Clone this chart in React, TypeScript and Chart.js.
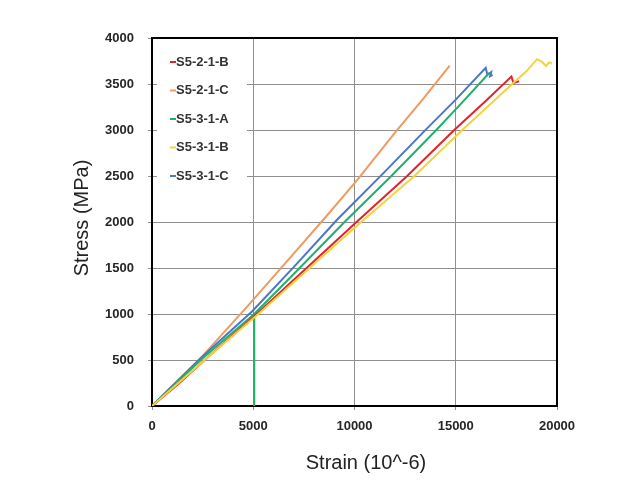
import React, { useEffect, useRef } from "react";
import { Chart, registerables } from "chart.js";

Chart.register(...registerables);

const seriesNames = ["S5-2-1-B", "S5-2-1-C", "S5-3-1-A", "S5-3-1-B", "S5-3-1-C"];
const seriesColors = ["#e3232b", "#ef9a5e", "#20b06c", "#f6d23c", "#4a78c4"];

const redStrain = [0, 1300, 2600, 5170, 7635, 10100, 12600, 14926, 16400, 17750, 17850, 18130];
const redStress = [0, 240, 500, 1000, 1500, 2000, 2500, 3000, 3300, 3580, 3510, 3530];

const orangeStrain = [0, 2400, 4700, 6650, 8600, 10150, 12070, 13400, 14700];
const orangeStress = [0, 520, 1080, 1570, 2060, 2460, 2990, 3340, 3700];

const greenStrain = [0, 2500, 5050, 7290, 9507, 11820, 14040, 15400, 16650];
const greenStress = [0, 520, 1000, 1500, 2000, 2500, 3000, 3320, 3620];
const greenDropStrain = [5050, 5050];
const greenDropStress = [1000, 0];

const yellowStrain = [0, 2600, 5250, 7783, 10330, 12955, 15320, 17880, 18500, 19015, 19260, 19460, 19600, 19750];
const yellowStress = [0, 500, 1000, 1500, 2000, 2500, 3000, 3520, 3640, 3770, 3740, 3696, 3735, 3725];

const blueStrain = [0, 2400, 4950, 7044, 9162, 11380, 13546, 15000, 16480, 16560, 16750, 16700, 16820];
const blueStress = [0, 520, 1030, 1520, 2030, 2520, 3010, 3330, 3675, 3600, 3630, 3585, 3600];

const xTicks = [0, 5000, 10000, 15000, 20000];
const yTicks = [0, 500, 1000, 1500, 2000, 2500, 3000, 3500, 4000];
const xTitle = "Strain (10^-6)";
const yTitle = "Stress (MPa)";

const pts = (xs: number[], ys: number[]) => xs.map((x, i) => ({ x, y: ys[i] }));

const overlay = {
  id: "overlay",
  beforeDatasetsDraw(chart: any) {
    const { ctx, chartArea } = chart;
    const { left, top, right, bottom } = chartArea;
    ctx.save();
    ctx.fillStyle = "#ffffff";
    ctx.fillRect(left + 5, top + 3, 90, 162);
    ctx.font = "bold 13px 'Liberation Sans', Arial, sans-serif";
    ctx.textBaseline = "middle";
    seriesNames.forEach((name, i) => {
      const y = top + 24 + i * 28.5;
      ctx.strokeStyle = seriesColors[i];
      ctx.lineWidth = 2;
      ctx.beginPath();
      ctx.moveTo(left + 18, y);
      ctx.lineTo(left + 24, y);
      ctx.stroke();
      ctx.fillStyle = "#333333";
      ctx.fillText(name, left + 24, y);
    });
    ctx.strokeStyle = "#000000";
    ctx.lineWidth = 2;
    ctx.strokeRect(left, top, right - left, bottom - top);
    ctx.restore();
  },
  afterDraw(chart: any) {
    const { ctx } = chart;
    ctx.save();
    ctx.fillStyle = "#222222";
    ctx.font = "20px 'Liberation Sans', Arial, sans-serif";
    ctx.textAlign = "center";
    ctx.textBaseline = "middle";
    ctx.fillText(xTitle, 366, 463);
    ctx.translate(82, 218);
    ctx.rotate(-Math.PI / 2);
    ctx.fillText(yTitle, 0, 0);
    ctx.restore();
  },
};

export default function App() {
  const ref = useRef<HTMLCanvasElement>(null);
  useEffect(() => {
    if (!ref.current) return;
    const mk = (label: string, data: any[], color: string) => ({
      label,
      data,
      borderColor: color,
      backgroundColor: color,
      borderWidth: 2,
      pointRadius: 0,
      showLine: true,
      tension: 0,
      fill: false,
    });
    const chart = new Chart(ref.current, {
      type: "scatter",
      data: {
        datasets: [
          mk(seriesNames[3], pts(yellowStrain, yellowStress), seriesColors[3]),
          mk(seriesNames[0], pts(redStrain, redStress), seriesColors[0]),
          mk(seriesNames[2], pts(greenStrain, greenStress), seriesColors[2]),
          mk(seriesNames[2] + " drop", pts(greenDropStrain, greenDropStress), seriesColors[2]),
          mk(seriesNames[4], pts(blueStrain, blueStress), seriesColors[4]),
          mk(seriesNames[1], pts(orangeStrain, orangeStress), seriesColors[1]),
        ],
      },
      options: {
        responsive: false,
        animation: false,
        devicePixelRatio: 1,
        layout: { padding: { left: 0, top: 38, right: 68, bottom: 0 } },
        plugins: { legend: { display: false }, tooltip: { enabled: false } },
        scales: {
          x: {
            type: "linear",
            min: 0,
            max: 20000,
            afterFit: (s: any) => { s.height = 76; },
            afterBuildTicks: (s: any) => { s.ticks = xTicks.map((v) => ({ value: v })); },
            grid: { color: "#8f8f8f", lineWidth: 1, tickLength: 4, drawTicks: true },
            border: { display: false },
            ticks: {
              padding: 9,
              color: "#262626",
              font: { family: "'Liberation Sans', Arial, sans-serif", size: 13, weight: "bold" },
              callback: (v: any) => String(v),
              maxRotation: 0,
            },
          },
          y: {
            type: "linear",
            min: 0,
            max: 4000,
            afterFit: (s: any) => { s.width = 152; },
            afterBuildTicks: (s: any) => { s.ticks = yTicks.map((v) => ({ value: v })); },
            grid: { color: "#8f8f8f", lineWidth: 1, tickLength: 4, drawTicks: true },
            border: { display: false },
            ticks: {
              padding: 14,
              color: "#262626",
              font: { family: "'Liberation Sans', Arial, sans-serif", size: 13, weight: "bold" },
              callback: (v: any) => String(v),
            },
          },
        },
      },
      plugins: [overlay],
    } as any);
    return () => chart.destroy();
  }, []);
  return (
    <div style={{ position: "absolute", left: 0, top: 0, width: 625, height: 482, background: "#fff" }}>
      <canvas ref={ref} width={625} height={482} style={{ width: 625, height: 482 }} />
    </div>
  );
}
